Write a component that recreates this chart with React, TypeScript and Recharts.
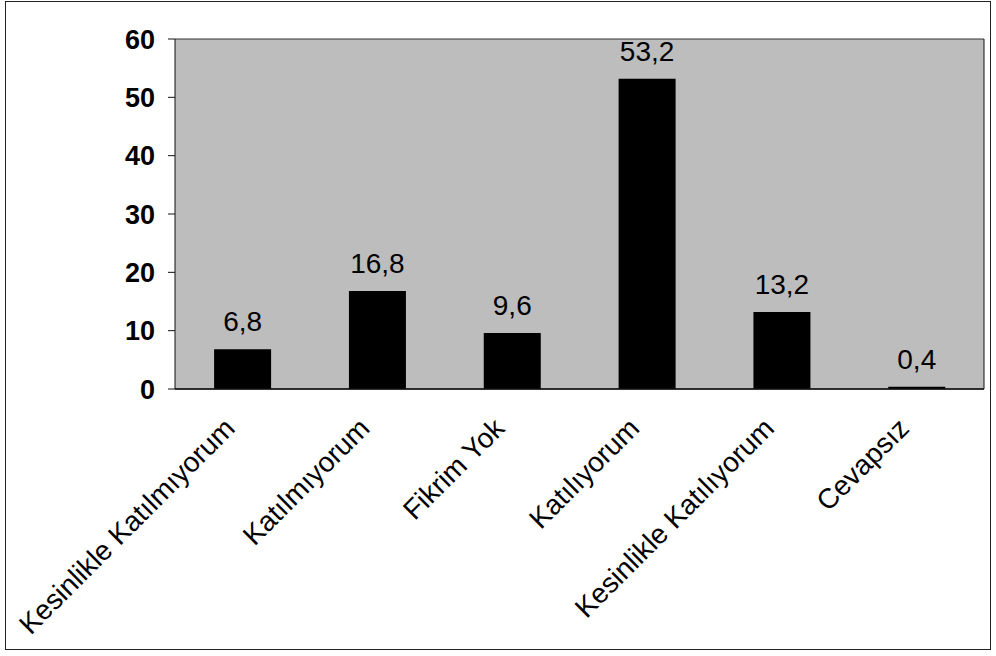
import React from 'react';
import { BarChart, Bar, XAxis, YAxis, CartesianGrid, LabelList } from 'recharts';

const categories = [
  'Kesinlikle Katılmıyorum',
  'Katılmıyorum',
  'Fikrim Yok',
  'Katılıyorum',
  'Kesinlikle Katılıyorum',
  'Cevapsız',
];
const percentages = [6.8, 16.8, 9.6, 53.2, 13.2, 0.4];
const yTicks = [0, 10, 20, 30, 40, 50, 60];
const edgeTicks = [0, 1, 2, 3, 4, 5, 6];

const data = categories.map((name, i) => ({ name, value: percentages[i] }));

const FONT = '"Liberation Sans", Arial, sans-serif';

// slanted category names, right end tucked under the bar centre
const CategoryTick = (props: any) => {
  const { x, y, payload } = props;
  return (
    <g transform={`translate(${x - 6},${y + 39})`}>
      <text
        x={0}
        y={0}
        transform="rotate(-45)"
        textAnchor="end"
        fontFamily={FONT}
        fontSize={28}
        fill="#000"
      >
        {payload.value}
      </text>
    </g>
  );
};

const App: React.FC = () => {
  return (
    <div style={{ position: 'absolute', left: 0, top: 0, width: 996, height: 656, background: '#fff' }}>
      <div
        style={{
          position: 'absolute',
          left: 5,
          top: 1,
          width: 984,
          height: 647,
          border: '1.5px solid #222',
        }}
      />
      <div style={{ position: 'absolute', left: 0, top: 0 }}>
        <BarChart
          width={996}
          height={656}
          data={data}
          margin={{ top: 39, right: 11, bottom: 265, left: 0 }}
          barCategoryGap="29%"
        >
          <CartesianGrid vertical={false} stroke="#333" fill="#bdbdbd" fillOpacity={1} />
          <XAxis
            dataKey="name"
            xAxisId="cat"
            height={1}
            axisLine={{ stroke: '#111', strokeWidth: 1.5 }}
            tickLine={false}
            tickSize={0}
            tick={<CategoryTick />}
            interval={0}
          />
          {/* tick marks between categories */}
          <XAxis
            xAxisId="edge"
            type="number"
            domain={[0, 6]}
            ticks={edgeTicks}
            height={1}
            axisLine={false}
            tick={false}
            tickLine={{ stroke: '#111' }}
            tickSize={7}
          />
          <YAxis
            yAxisId="left"
            width={175}
            domain={[0, 60]}
            ticks={yTicks}
            interval={0}
            axisLine={{ stroke: '#111' }}
            tickLine={{ stroke: '#111' }}
            tickSize={7}
            tickMargin={13}
            tick={{ fill: '#000', fontSize: 27, fontWeight: 700, fontFamily: FONT }}
          />
          <YAxis
            yAxisId="right"
            orientation="right"
            width={1}
            domain={[0, 60]}
            axisLine={{ stroke: '#111' }}
            tick={false}
            tickLine={false}
          />
          <Bar dataKey="value" xAxisId="cat" yAxisId="left" fill="#000" isAnimationActive={false}>
            <LabelList
              dataKey="value"
              position="top"
              offset={18}
              formatter={(v: any) => String(v).replace('.', ',')}
              style={{ fill: '#000', fontSize: 28, fontFamily: FONT }}
            />
          </Bar>
        </BarChart>
      </div>
    </div>
  );
};

export default App;
